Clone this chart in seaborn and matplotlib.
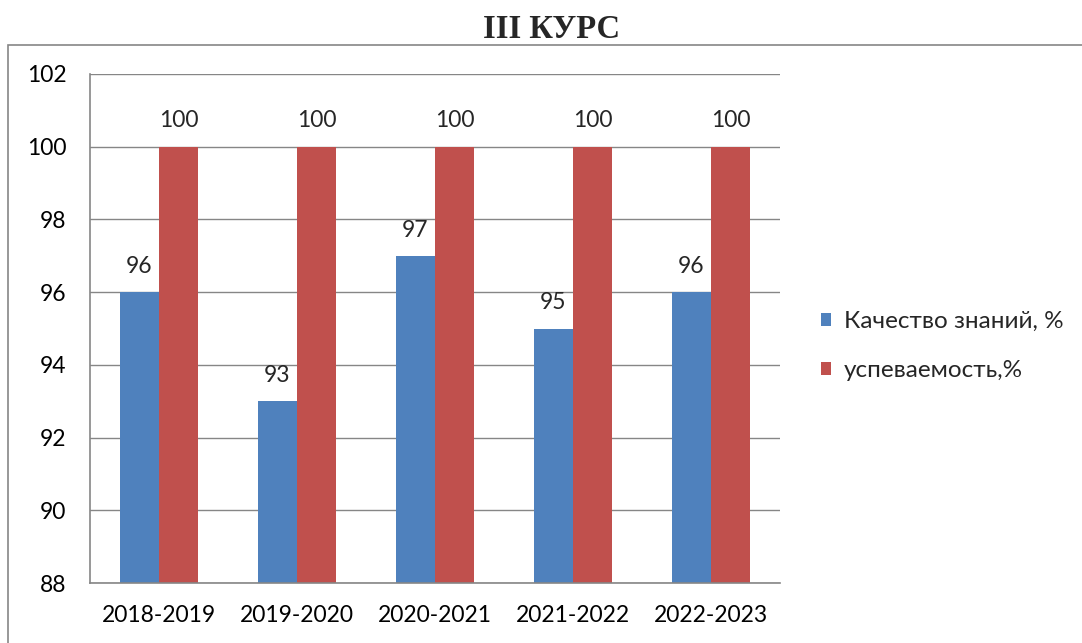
import matplotlib
matplotlib.use("Agg")
import matplotlib.pyplot as plt
import seaborn as sns
import pandas as pd
from matplotlib.patches import Rectangle

years = ["2018-2019", "2019-2020", "2020-2021", "2021-2022", "2022-2023"]
quality = [96, 93, 97, 95, 96]
progress = [100, 100, 100, 100, 100]
series_names = ["Качество знаний, %", "успеваемость,%"]
colors = ["#4F81BD", "#C0504D"]

df = pd.DataFrame({
    "year": years * 2,
    "value": quality + progress,
    "series": [series_names[0]] * len(years) + [series_names[1]] * len(years),
})

sns.set_theme(style="white")
plt.rcParams["font.family"] = ["Lato", "DejaVu Sans"]

fig = plt.figure(figsize=(10.82, 6.43), dpi=100)
ax = fig.add_axes([90 / 1082, 1 - 583 / 643, 690 / 1082, (583 - 74) / 643])

sns.barplot(data=df, x="year", y="value", hue="series", palette=colors,
            width=0.57, ax=ax, saturation=1, edgecolor="none", linewidth=0)

ax.set_ylim(88, 102)
ax.set_yticks(range(88, 103, 2))
ax.yaxis.grid(True, color="#868686", linewidth=1)
ax.set_axisbelow(True)
for s in ["top", "right"]:
    ax.spines[s].set_visible(False)
for s in ["left", "bottom"]:
    ax.spines[s].set_color("#868686")
    ax.spines[s].set_linewidth(1.2)
ax.tick_params(axis="both", length=0, labelsize=16.5, colors="black")
ax.tick_params(axis="y", pad=17)
ax.tick_params(axis="x", pad=16)
ax.set_xlabel("")
ax.set_ylabel("")

for cont in ax.containers:
    ax.bar_label(cont, fmt="%d", padding=11, fontsize=16.5)

leg = ax.legend(loc="center left", bbox_to_anchor=(1.027, 0.465), frameon=False,
                fontsize=17.5, handlelength=0.45, handleheight=0.45,
                handletextpad=0.5, labelspacing=1.15)

fig.text(552 / 1082, 1 - 30 / 643, "III КУРС", ha="center", va="center",
         fontsize=23.5, fontweight="bold", family="Liberation Serif")

fig.patches.append(Rectangle((8 / 1082, -0.05), 1.2, 0.05 + (1 - 45 / 643),
                             transform=fig.transFigure, fill=False,
                             edgecolor="#868686", linewidth=1.2))

fig.savefig("out.png", dpi=100)
